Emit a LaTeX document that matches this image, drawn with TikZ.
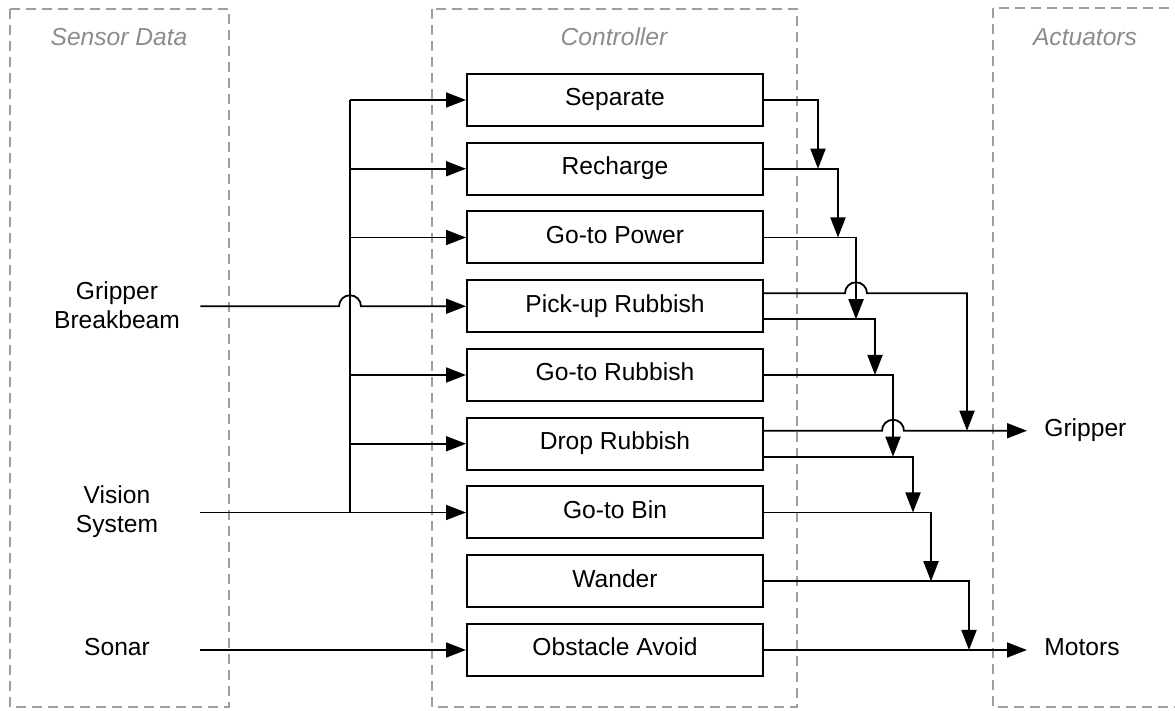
\documentclass[tikz,border=0pt]{standalone}
\usepackage{fontspec}
\setmainfont{Liberation Sans}
\usetikzlibrary{arrows.meta}
\definecolor{framegray}{gray}{0.62}
\definecolor{titlegray}{gray}{0.55}
\tikzset{
  behaviour/.style={draw, line width=1pt, minimum width=148pt, minimum height=26pt,
    inner sep=0pt, text height=0.8em, text depth=0.2em},
  sensor/.style={minimum width=83pt, inner sep=0pt, align=center},
  actuator/.style={anchor=west, inner xsep=8.5pt, inner ysep=0pt,
    text height=0.8em, text depth=0.2em},
  layerbox/.style={draw=framegray, line width=1pt, dash pattern=on 5pt off 3pt},
  layertitle/.style={text=titlegray, font=\fontsize{12.3}{14.5}\selectfont\itshape,
    text height=0.8em, text depth=0.2em},
  wire/.style={line width=0.9pt},
  arr/.style={wire, -{Triangle[length=10pt,width=7.5pt]}},
}
\begin{document}
\begin{tikzpicture}[x=0.5pt, y=0.5pt, font=\fontsize{12.3}{14.5}\selectfont]
\useasboundingbox (0,0) rectangle (1175,-711);
% layers
\draw[layerbox] (10,-9) rectangle (229,-707);
\draw[layerbox] (432,-9) rectangle (797,-707);
\draw[layerbox] (993,-8) rectangle (1190,-707);
\node[layertitle] (tsens) at (119,-40) {Sensor Data};
\node[layertitle] (tctrl) at (614,-40) {Controller};
\node[layertitle] (tact) at (1085,-40) {Actuators};
% behaviours
\node[behaviour] (sep) at (615,-100) {Separate};
\node[behaviour] (rech) at (615,-168.75) {Recharge};
\node[behaviour] (gopow) at (615,-237.5) {Go-to Power};
\node[behaviour] (pick) at (615,-306.25) {Pick-up Rubbish};
\node[behaviour] (gorub) at (615,-375) {Go-to Rubbish};
\node[behaviour] (drop) at (615,-443.75) {Drop Rubbish};
\node[behaviour] (gobin) at (615,-512.5) {Go-to Bin};
\node[behaviour] (wand) at (615,-581.25) {Wander};
\node[behaviour] (obst) at (615,-650) {Obstacle Avoid};
% sensors and actuators
\node[sensor] (grip) at (117,-305) {Gripper\\Breakbeam};
\node[sensor] (vis) at (117,-512) {Vision\\System};
\node[sensor, text height=0.8em, text depth=0.2em] (son) at (117,-650) {Sonar};
\node[actuator] (gripa) at (1027,-430.75) {Gripper};
\node[actuator] (mot) at (1027,-650) {Motors};
% inputs
\coordinate (bus) at (350,0);
\coordinate (j1) at (pick.west -| bus);
\draw[wire] (sep.west -| bus) -- (gobin.west -| bus);
\draw[arr] (sep.west -| bus) -- (sep.west);
\draw[arr] (rech.west -| bus) -- (rech.west);
\draw[arr] (gopow.west -| bus) -- (gopow.west);
\draw[arr] (gorub.west -| bus) -- (gorub.west);
\draw[arr] (drop.west -| bus) -- (drop.west);
\draw[arr] (grip.east |- pick.west) -- ([xshift=-5.5pt]j1)
  arc[start angle=180, end angle=0, radius=5.5pt] -- (pick.west);
\draw[arr] (vis.east |- gobin.west) -- (gobin.west);
\draw[arr] (son.east |- obst.west) -- (obst.west);
% outputs
\coordinate (d1) at (818,0);
\coordinate (d2) at (838,0);
\coordinate (d3) at (856,0);
\coordinate (d4) at (875,0);
\coordinate (d5) at (893,0);
\coordinate (d6) at (913,0);
\coordinate (d7) at (967,0);
\coordinate (d8) at (931,0);
\coordinate (d9) at (969,0);
\coordinate (pickhi) at ([yshift=6.5pt]pick.east);
\coordinate (picklo) at ([yshift=-6.5pt]pick.east);
\coordinate (drophi) at ([yshift=6.5pt]drop.east);
\coordinate (droplo) at ([yshift=-6.5pt]drop.east);
\coordinate (j2) at (pickhi -| d3);
\coordinate (j3) at (drophi -| d5);
\draw[arr] (sep.east) -| (rech.east -| d1);
\draw[arr] (rech.east) -| (gopow.east -| d2);
\draw[arr] (gopow.east) -| (picklo -| d3);
\draw[arr] (pickhi) -- ([xshift=-5.5pt]j2)
  arc[start angle=180, end angle=0, radius=5.5pt] -| (gripa.west -| d7);
\draw[arr] (picklo) -| (gorub.east -| d4);
\draw[arr] (gorub.east) -| (droplo -| d5);
\draw[arr] (drophi) -- ([xshift=-5.5pt]j3)
  arc[start angle=180, end angle=0, radius=5.5pt] -- (gripa.west);
\draw[arr] (droplo) -| (gobin.east -| d6);
\draw[arr] (gobin.east) -| (wand.east -| d8);
\draw[arr] (wand.east) -| (obst.east -| d9);
\draw[arr] (obst.east) -- (mot.west);
\end{tikzpicture}
\end{document}
